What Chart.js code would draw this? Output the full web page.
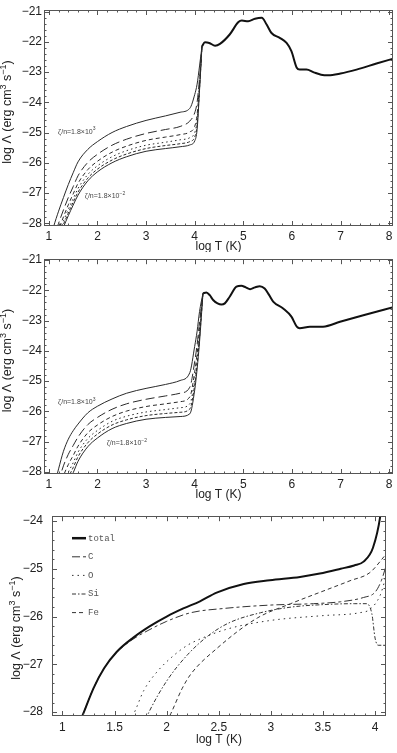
<!DOCTYPE html>
<html>
<head>
<meta charset="utf-8">
<script src="https://cdn.jsdelivr.net/npm/chart.js@4.4.1/dist/chart.umd.min.js"></script>
<style>
  body { margin: 0; background: #fff; width: 397px; height: 753px; overflow: hidden; position: relative; }
  canvas { position: absolute; left: 0; }
</style>
</head>
<body>
<canvas id="c1" width="397" height="252" style="top:0px"></canvas>
<canvas id="c2" width="397" height="252" style="top:250px"></canvas>
<canvas id="c3" width="397" height="253" style="top:500px"></canvas>
<script>
var FONT = '"Liberation Sans", Arial, sans-serif';

// ---- panel 1 : zeta/n family, low T part, and the hot part
var lowT1 = [1.0, 1.1, 1.2, 1.3, 1.4, 1.5, 1.6, 1.8, 2.0, 2.3, 2.6, 3.0, 3.4, 3.7, 3.9, 4.0, 4.05, 4.1, 4.15];
var p1z3  = [-28.7, -28.1, -27.6, -27.15, -26.72, -26.33, -25.97, -25.56, -25.3, -25.0, -24.8, -24.6, -24.45, -24.33, -24.2, -23.75, -23.4, -22.8, -22.15];
var p1z2  = [-29.05, -28.48, -28.0, -27.56, -27.15, -26.79, -26.43, -25.99, -25.72, -25.42, -25.22, -25.03, -24.9, -24.8, -24.62, -24.35, -24.0, -23.2, -22.15];
var p1z1  = [-29.22, -28.69, -28.22, -27.79, -27.39, -27.03, -26.68, -26.23, -25.95, -25.65, -25.45, -25.26, -25.15, -25.07, -24.98, -24.8, -24.4, -23.4, -22.15];
var p1z0  = [-29.34, -28.82, -28.36, -27.93, -27.54, -27.19, -26.85, -26.39, -26.1, -25.8, -25.6, -25.42, -25.32, -25.24, -25.17, -25.0, -24.6, -23.5, -22.15];
var p1zm1 = [-29.43, -28.92, -28.46, -28.04, -27.66, -27.3, -26.97, -26.51, -26.21, -25.91, -25.71, -25.53, -25.43, -25.37, -25.3, -25.15, -24.75, -23.55, -22.15];
var p1zm2 = [-29.5, -29.0, -28.55, -28.13, -27.75, -27.4, -27.07, -26.6, -26.3, -26.0, -25.8, -25.62, -25.53, -25.47, -25.41, -25.28, -24.9, -23.6, -22.15];
var hotT1 = [4.15, 4.21, 4.3, 4.42, 4.52, 4.72, 4.9, 4.97, 5.1, 5.24, 5.38, 5.48, 5.58, 5.75, 5.89, 5.99, 6.1, 6.16, 6.3, 6.45, 6.6, 6.75, 7.0, 7.33, 7.74, 8.1];
var hot1  = [-22.15, -22.02, -22.04, -22.13, -22.07, -21.76, -21.35, -21.3, -21.32, -21.24, -21.21, -21.43, -21.71, -21.87, -22.04, -22.31, -22.86, -22.92, -22.92, -23.01, -23.09, -23.11, -23.05, -22.92, -22.72, -22.55];

// ---- panel 2
var lowT2 = [1.0, 1.1, 1.2, 1.3, 1.4, 1.5, 1.6, 1.8, 2.0, 2.3, 2.6, 3.0, 3.4, 3.7, 3.9, 4.0, 4.05, 4.1, 4.17];
var p2z3  = [-29.3, -28.55, -27.9, -27.32, -26.92, -26.64, -26.42, -26.05, -25.83, -25.59, -25.4, -25.24, -25.11, -24.98, -24.72, -23.85, -23.35, -22.7, -22.1];
var p2z2  = [-29.62, -28.92, -28.32, -27.8, -27.42, -27.13, -26.85, -26.44, -26.2, -25.93, -25.75, -25.6, -25.49, -25.4, -25.2, -24.36, -23.79, -23.05, -22.1];
var p2z1  = [-29.83, -29.17, -28.61, -28.13, -27.76, -27.46, -27.15, -26.71, -26.45, -26.17, -25.99, -25.84, -25.75, -25.68, -25.52, -24.7, -24.09, -23.29, -22.1];
var p2z0  = [-29.98, -29.35, -28.81, -28.37, -28.01, -27.7, -27.35, -26.9, -26.63, -26.33, -26.16, -26.02, -25.94, -25.88, -25.75, -24.95, -24.3, -23.46, -22.1];
var p2zm1 = [-30.09, -29.47, -28.96, -28.53, -28.18, -27.86, -27.5, -27.04, -26.75, -26.45, -26.28, -26.14, -26.07, -26.03, -25.92, -25.13, -24.45, -23.58, -22.1];
var p2zm2 = [-30.2, -29.6, -29.1, -28.7, -28.35, -28.03, -27.65, -27.17, -26.88, -26.57, -26.4, -26.26, -26.2, -26.17, -26.08, -25.3, -24.6, -23.7, -22.1];
var hotT2 = [4.17, 4.24, 4.31, 4.38, 4.47, 4.55, 4.62, 4.72, 4.86, 4.96, 5.05, 5.14, 5.24, 5.34, 5.44, 5.53, 5.62, 5.82, 5.99, 6.1, 6.16, 6.37, 6.64, 6.99, 7.47, 8.1];
var hot2  = [-22.1, -22.07, -22.16, -22.32, -22.43, -22.47, -22.43, -22.21, -21.88, -21.85, -21.9, -21.96, -21.9, -21.86, -21.94, -22.15, -22.38, -22.6, -22.87, -23.2, -23.25, -23.2, -23.2, -23.04, -22.82, -22.55];

// ---- panel 3 : contributions
var tTot = [1.15, 1.2, 1.3, 1.4, 1.52, 1.68, 1.84, 2.0, 2.16, 2.32, 2.48, 2.74, 2.99, 3.28, 3.47, 3.67, 3.8, 3.89, 3.98, 4.05, 4.08];
var vTot = [-28.3, -28.03, -27.49, -27.08, -26.74, -26.44, -26.2, -26.0, -25.83, -25.68, -25.5, -25.32, -25.24, -25.17, -25.1, -25.0, -24.93, -24.85, -24.56, -23.9, -23.3];
var tC = [1.15, 1.2, 1.3, 1.4, 1.52, 1.68, 1.84, 2.0, 2.23, 2.55, 2.99, 3.41, 3.67, 3.89, 4.0, 4.06, 4.1];
var vC = [-28.3, -28.03, -27.49, -27.08, -26.75, -26.47, -26.27, -26.1, -25.92, -25.83, -25.76, -25.73, -25.69, -25.6, -25.49, -25.25, -24.98];
var tO = [1.65, 1.7, 1.78, 1.91, 2.07, 2.2, 2.32, 2.6, 3.0, 3.5, 3.85, 3.95, 4.05, 4.1];
var vO = [-28.2, -27.96, -27.55, -27.15, -26.81, -26.6, -26.47, -26.25, -26.08, -25.98, -25.92, -25.85, -25.55, -25.2];
var tSi = [1.8, 1.83, 2.0, 2.2, 2.4, 2.6, 2.9, 3.2, 3.5, 3.8, 3.92, 3.97, 4.0, 4.03, 4.1];
var vSi = [-28.15, -28.0, -27.35, -26.8, -26.4, -26.13, -25.92, -25.8, -25.75, -25.73, -25.73, -25.95, -26.45, -26.6, -26.6];
var tFe = [2.0, 2.04, 2.15, 2.23, 2.48, 2.87, 3.19, 3.51, 3.76, 3.95, 4.1];
var vFe = [-28.2, -28.03, -27.5, -27.21, -26.67, -26.03, -25.73, -25.46, -25.25, -25.08, -24.71];
var legendNames = ['total', 'C', 'O', 'Si', 'Fe'];

// tick labels
var xTicks12 = [1, 2, 3, 4, 5, 6, 7, 8];
var yTicks12 = [-28, -27, -26, -25, -24, -23, -22, -21];
var xTicks3 = [1, 1.5, 2, 2.5, 3, 3.5, 4];
var yTicks3 = [-28, -27, -26, -25, -24];

function pts(xs, ys) {
  return xs.map(function (x, i) { return { x: x, y: ys[i] }; });
}

function line(xs, ys, dash, width, color) {
  return {
    data: pts(xs, ys),
    showLine: true,
    borderColor: color || '#2a2a2a',
    borderWidth: width || 1,
    borderDash: dash || [],
    pointRadius: 0,
    fill: false,
    cubicInterpolationMode: 'monotone',
    clip: 0
  };
}

function drawRich(ctx, parts, x, y, size, center) {
  var w = 0;
  parts.forEach(function (p) {
    ctx.font = (p[1] ? size * 0.72 : size) + 'px ' + FONT;
    w += ctx.measureText(p[0]).width;
  });
  var cx = center ? x - w / 2 : x;
  parts.forEach(function (p) {
    ctx.font = (p[1] ? size * 0.72 : size) + 'px ' + FONT;
    ctx.fillText(p[0], cx, p[1] ? y - size * 0.38 : y);
    cx += ctx.measureText(p[0]).width;
  });
}

var yTitle = [['log \u039B (erg cm', 0], ['3', 1], [' s', 0], ['\u22121', 1], [')', 0]];

// frame, inward ticks, axis titles, notes, legend
var decor = {
  id: 'decor',
  afterDraw: function (chart, args, o) {
    var ctx = chart.ctx, a = chart.chartArea;
    var xs = chart.scales.x, ys = chart.scales.y;
    ctx.save();
    ctx.strokeStyle = '#555';
    ctx.lineWidth = 1;
    ctx.strokeRect(Math.round(a.left) + 0.5, Math.round(a.top) + 0.5, Math.round(a.right - a.left) - 1, Math.round(a.bottom - a.top) - 1);

    function xt(v, len) {
      var p = Math.round(xs.getPixelForValue(v)) + 0.5;
      ctx.beginPath();
      ctx.moveTo(p, a.bottom); ctx.lineTo(p, a.bottom - len);
      ctx.moveTo(p, a.top); ctx.lineTo(p, a.top + len);
      ctx.stroke();
    }
    function yt(v, len) {
      var p = Math.round(ys.getPixelForValue(v)) + 0.5;
      ctx.beginPath();
      ctx.moveTo(a.left, p); ctx.lineTo(a.left + len, p);
      ctx.moveTo(a.right, p); ctx.lineTo(a.right - len, p);
      ctx.stroke();
    }
    var k;
    for (k = Math.ceil(xs.min / o.xMinor); k * o.xMinor <= xs.max; k++) xt(k * o.xMinor, 2.5);
    for (k = Math.ceil(ys.min / o.yMinor); k * o.yMinor <= ys.max; k++) yt(k * o.yMinor, 2.5);
    xs.ticks.forEach(function (t) { xt(t.value, 5); });
    ys.ticks.forEach(function (t) { yt(t.value, 5); });

    ctx.fillStyle = '#222';
    ctx.textBaseline = 'middle';
    ctx.textAlign = 'left';
    drawRich(ctx, [['log T (K)', 0]], (a.left + a.right) / 2, a.bottom + o.xTitleDy, 12, true);
    ctx.save();
    ctx.translate(o.yTitleX, (a.top + a.bottom) / 2 + o.yTitleDy);
    ctx.rotate(-Math.PI / 2);
    drawRich(ctx, yTitle, 0, 0, 12.5, true);
    ctx.restore();

    (o.notes || []).forEach(function (n) {
      ctx.fillStyle = '#444';
      drawRich(ctx, [['\u03B6/n=1.8\u00D710', 0], [n.sup, 1]], xs.getPixelForValue(n.x), ys.getPixelForValue(n.y), 7, false);
    });

    if (o.legend) {
      var ds = chart.data.datasets;
      legendNames.forEach(function (name, i) {
        var y = a.top + 22 + i * 18.6;
        ctx.strokeStyle = ds[i].borderColor;
        ctx.lineWidth = i === 0 ? 2.5 : 1;
        ctx.setLineDash(ds[i].borderDash);
        ctx.beginPath();
        ctx.moveTo(a.left + 20, y); ctx.lineTo(a.left + 34, y);
        ctx.stroke();
        ctx.setLineDash([]);
        ctx.fillStyle = '#555';
        ctx.font = '9px "Liberation Mono", "DejaVu Sans Mono", monospace';
        ctx.fillText(name, a.left + 36, y);
      });
    }
    ctx.restore();
  }
};

function minusFmt(v) {
  return (v < 0 ? '\u2212' : '') + Math.abs(v);
}

function makeChart(id, datasets, cfg) {
  return new Chart(document.getElementById(id), {
    type: 'scatter',
    data: { datasets: datasets },
    plugins: [decor],
    options: {
      responsive: false,
      animation: false,
      events: [],
      layout: { padding: { top: cfg.padTop, right: cfg.padRight, left: 0, bottom: 0 } },
      plugins: {
        legend: { display: false },
        tooltip: { enabled: false },
        decor: cfg.decor
      },
      scales: {
        x: {
          type: 'linear', min: cfg.xMin, max: cfg.xMax,
          afterBuildTicks: function (s) { s.ticks = cfg.xTicks.map(function (v) { return { value: v }; }); },
          afterFit: function (s) { s.height = cfg.xH; },
          grid: { display: false, drawTicks: false },
          border: { display: false },
          ticks: { padding: cfg.xPad, autoSkip: false, maxRotation: 0, color: '#222', font: { size: 12, family: FONT }, callback: minusFmt }
        },
        y: {
          type: 'linear', min: cfg.yMin, max: cfg.yMax,
          afterBuildTicks: function (s) { s.ticks = cfg.yTicks.map(function (v) { return { value: v }; }); },
          afterFit: function (s) { s.width = cfg.yW; },
          grid: { display: false, drawTicks: false },
          border: { display: false },
          ticks: { padding: cfg.yPad, autoSkip: false, color: '#222', font: { size: 12, family: FONT }, callback: minusFmt }
        }
      }
    }
  });
}

var fam = [[], [9, 4], [4, 3], [1.5, 3], [3, 2], []];

makeChart('c1', [
  line(lowT1, p1z3, fam[0]), line(lowT1, p1z2, fam[1]), line(lowT1, p1z1, fam[2]),
  line(lowT1, p1z0, fam[3]), line(lowT1, p1zm1, fam[4]), line(lowT1, p1zm2, fam[5]),
  line(hotT1, hot1, [], 2, '#111')
], {
  padTop: 10, padRight: 4, xH: 26, yW: 44, xPad: 3, yPad: 2,
  xMin: 0.9, xMax: 8.08, yMin: -28.09, yMax: -20.95,
  xTicks: xTicks12, yTicks: yTicks12,
  decor: { xMinor: 0.2, yMinor: 0.2, xTitleDy: 21, yTitleX: 8, yTitleDy: -6,
    notes: [{ x: 1.19, y: -24.97, sup: '3' }, { x: 1.74, y: -27.1, sup: '\u22122' }] }
});

makeChart('c2', [
  line(lowT2, p2z3, fam[0]), line(lowT2, p2z2, fam[1]), line(lowT2, p2z1, fam[2]),
  line(lowT2, p2z0, fam[3]), line(lowT2, p2zm1, fam[4]), line(lowT2, p2zm2, fam[5]),
  line(hotT2, hot2, [], 2, '#111')
], {
  padTop: 9, padRight: 4, xH: 28, yW: 44, xPad: 3, yPad: 2,
  xMin: 0.9, xMax: 8.08, yMin: -28.07, yMax: -20.97,
  xTicks: xTicks12, yTicks: yTicks12,
  decor: { xMinor: 0.2, yMinor: 0.2, xTitleDy: 21, yTitleX: 8, yTitleDy: -6,
    notes: [{ x: 1.19, y: -25.69, sup: '3' }, { x: 2.19, y: -27.04, sup: '\u22122' }] }
});

makeChart('c3', [
  line(tTot, vTot, [], 2, '#111'),
  line(tC, vC, [8, 3, 3, 3], 1, '#333'),
  line(tO, vO, [1.5, 4], 1, '#333'),
  line(tSi, vSi, [4, 2, 1.5, 2], 1, '#333'),
  line(tFe, vFe, [4, 3], 1, '#333')
], {
  padTop: 10, padRight: 11, xH: 37, yW: 52, xPad: 4, yPad: 9,
  xMin: 0.9, xMax: 4.105, yMin: -28.08, yMax: -23.9,
  xTicks: xTicks3, yTicks: yTicks3,
  decor: { xMinor: 0.1, yMinor: 0.2, xTitleDy: 24, yTitleX: 17, yTitleDy: 12, legend: true }
});
</script>
</body>
</html>
